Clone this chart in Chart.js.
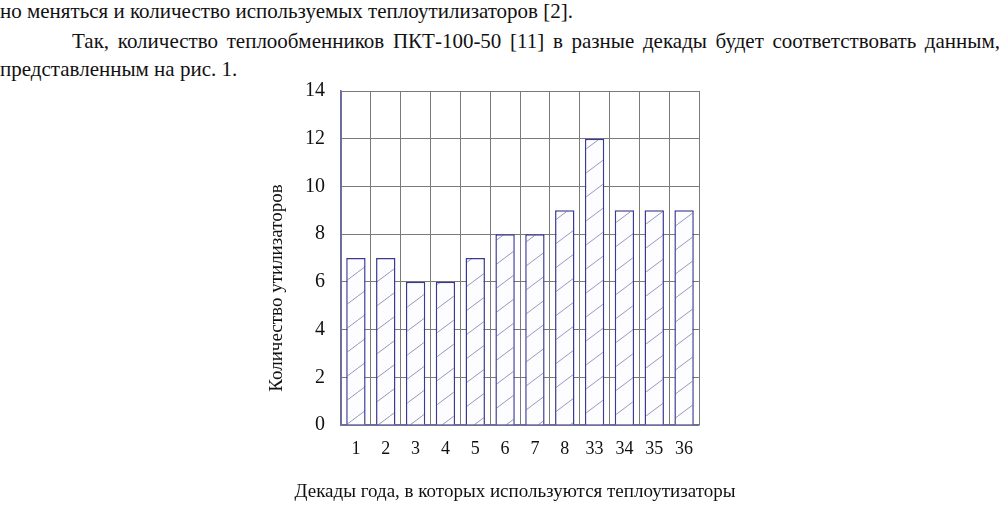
<!DOCTYPE html>
<html>
<head>
<meta charset="utf-8">
<script src="https://cdn.jsdelivr.net/npm/chart.js@4/dist/chart.umd.min.js"></script>
<style>
  html, body { margin: 0; padding: 0; background: #fff; }
  body { width: 1002px; height: 516px; position: relative; overflow: hidden;
         font-family: 'Liberation Serif', 'Times New Roman', serif; color: #111; }
  .line { position: absolute; font-size: 21px; line-height: 24px; white-space: nowrap; }
  #l2 { left: 72px; width: 928px; white-space: normal; text-align: justify; text-align-last: justify; }
  #wrap { position: absolute; left: 230px; top: 80px; width: 530px; height: 436px; }
</style>
</head>
<body>
<div class="line" id="l1" style="left:0;top:-1px">но меняться и количество используемых теплоутилизаторов [2].</div>
<div class="line" id="l2" style="top:29px">Так, количество теплообменников ПКТ-100-50 [11] в разные декады будет соответствовать данным,</div>
<div class="line" id="l3" style="left:0;top:57px">представленным на рис. 1.</div>
<div id="wrap"><canvas id="chart" width="530" height="436"></canvas></div>
<script>
const decades = ['1', '2', '3', '4', '5', '6', '7', '8', '33', '34', '35', '36']
const utilizers = [7, 7, 6, 6, 7, 8, 8, 9, 12, 9, 9, 9]
const yTicks = [0, 2, 4, 6, 8, 10, 12, 14]
const xTitle = 'Декады года, в которых используются теплоутизаторы'
const yTitle = 'Количество утилизаторов'

function makeHatch() {
  const c = document.createElement('canvas')
  c.width = 32
  c.height = 24
  const g = c.getContext('2d')
  g.fillStyle = '#fdfdff'
  g.fillRect(0, 0, 32, 24)
  g.strokeStyle = '#9696bc'
  g.lineWidth = 1
  g.beginPath()
  g.moveTo(-1, 24.75)
  g.lineTo(33, -0.75)
  g.stroke()
  return g.createPattern(c, 'repeat')
}

// axis titles drawn by hand so the canvas doesn't squeeze them to the scale width
const axisTitles = {
  id: 'axisTitles',
  afterDraw(chart) {
    const { ctx, chartArea } = chart
    ctx.save()
    ctx.fillStyle = '#111'
    ctx.textAlign = 'center'
    ctx.textBaseline = 'middle'
    ctx.font = '19px "Liberation Serif"'
    ctx.fillText(xTitle, (chartArea.left + chartArea.right) / 2 - 5, chartArea.bottom + 67)
    ctx.translate(47, (chartArea.top + chartArea.bottom) / 2 + 30)
    ctx.rotate(-Math.PI / 2)
    ctx.fillText(yTitle, 0, 0)
    ctx.restore()
  }
}

const ctx = document.getElementById('chart').getContext('2d')
new Chart(ctx, {
  type: 'bar',
  data: {
    labels: decades,
    datasets: [{
      data: utilizers,
      backgroundColor: makeHatch(),
      borderColor: '#3a3a94',
      borderWidth: 1.5,
      categoryPercentage: 1,
      barPercentage: 0.65
    }]
  },
  options: {
    responsive: false,
    devicePixelRatio: 1,
    animation: false,
    layout: { padding: { top: 11, right: 61, left: 0, bottom: 0 } },
    plugins: { legend: { display: false }, tooltip: { enabled: false } },
    scales: {
      x: {
        grid: { color: '#7a7a7a', lineWidth: 1, drawTicks: false, offset: true },
        border: { color: '#6a6aa6', width: 1.5 },
        ticks: { color: '#111', font: { family: 'Liberation Serif', size: 18 }, padding: 13, maxRotation: 0, autoSkip: false },
        afterFit: s => { s.height = 91; s.paddingLeft = 0; s.paddingRight = 0 }
      },
      y: {
        min: 0,
        max: 14,
        afterBuildTicks: s => { s.ticks = yTicks.map(v => ({ value: v })) },
        grid: { color: '#7a7a7a', lineWidth: 1, drawTicks: false },
        border: { color: '#6a6aa6', width: 1.5 },
        ticks: { color: '#111', font: { family: 'Liberation Serif', size: 20 }, padding: 16 },
        afterFit: s => { s.width = 111; s.paddingTop = 0; s.paddingBottom = 0 }
      }
    }
  },
  plugins: [axisTitles]
})
</script>
</body>
</html>
